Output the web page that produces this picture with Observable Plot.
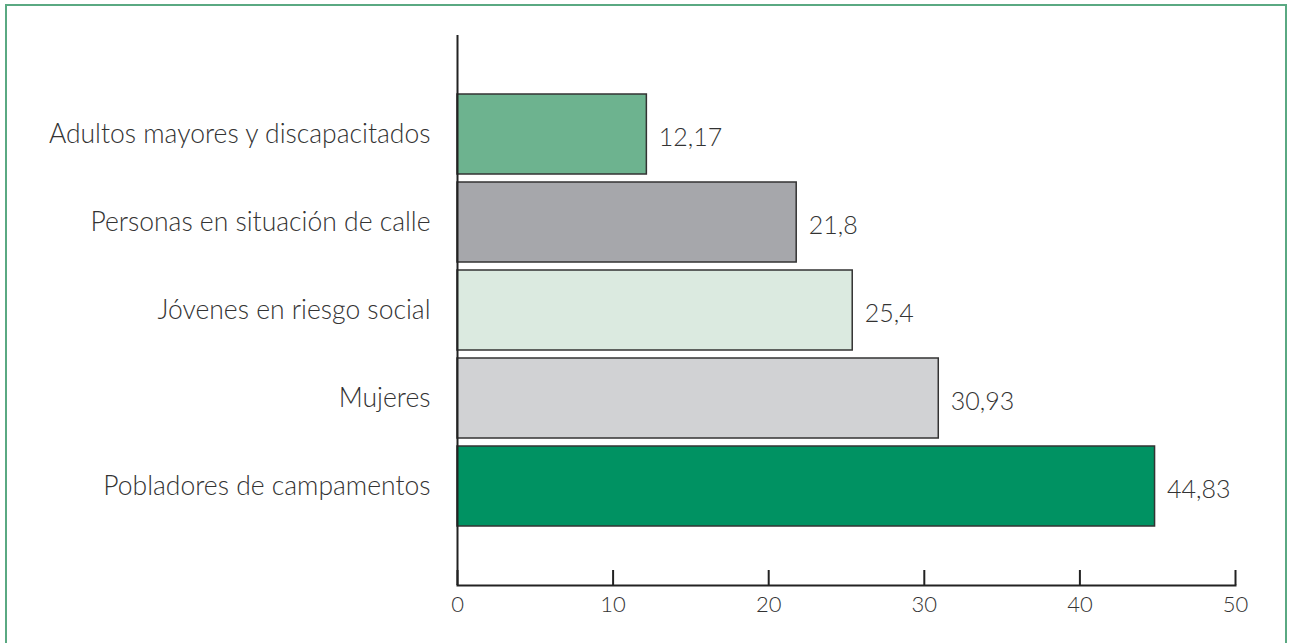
<!DOCTYPE html>
<html>
<head>
<meta charset="utf-8">
<script src="https://cdn.jsdelivr.net/npm/d3@7"></script>
<script src="https://cdn.jsdelivr.net/npm/@observablehq/plot@0.6"></script>
<style>
  html, body { margin: 0; padding: 0; background: #fff; }
  #wrap { position: relative; width: 1289px; height: 643px; overflow: hidden; }
  #border { position: absolute; left: 5px; top: 4px; width: 1282px; height: 700px; border: 2px solid #5aa982; box-sizing: border-box; pointer-events: none; }
  svg { font-family: Lato, "Open Sans", sans-serif; font-weight: 300; }
</style>
</head>
<body>
<div id="wrap"><div id="border"></div></div>
<script>
const categories = [
  "Adultos mayores y discapacitados",
  "Personas en situación de calle",
  "Jóvenes en riesgo social",
  "Mujeres",
  "Pobladores de campamentos"
];
const values = [12.17, 21.8, 25.4, 30.93, 44.83];
const colors = ["#6db38f", "#a6a7ab", "#dbeae0", "#d1d2d4", "#009262"];
const xTicks = [0, 10, 20, 30, 40, 50];

const data = categories.map((c, i) => ({category: c, value: values[i], color: colors[i]}));
const fmt = v => String(v).replace(".", ",");

const chart = Plot.plot({
  width: 1289,
  height: 643,
  marginLeft: 457,
  marginRight: 54,
  marginTop: 35,
  marginBottom: 58,
  style: {fontFamily: "Lato, 'Open Sans', sans-serif", fontWeight: 300, color: "#333", background: "transparent"},
  x: {domain: [0, 50], ticks: xTicks},
  y: {domain: categories, paddingInner: 0.09, paddingOuter: 0.66},
  marks: [
    Plot.barX(data, {x: "value", y: "category", fill: d => d.color, stroke: "#333", strokeWidth: 1.5}),
    Plot.text(data, {x: "value", y: "category", text: d => fmt(d.value), textAnchor: "start", dx: 12, dy: 3, fontSize: 25, fill: "#333"}),
    Plot.ruleX(xTicks, {x: d => d, insetTop: 535, stroke: "#222", strokeWidth: 2}),
    Plot.ruleX([0], {stroke: "#222", strokeWidth: 2}),
    Plot.frame({anchor: "bottom", stroke: "#222", strokeWidth: 2}),
    Plot.axisX(xTicks, {tickSize: 0, tickPadding: 11, fontSize: 22, fill: "#333", label: null, tickFormat: d => String(d)}),
    Plot.axisY({tickSize: 0, tickPadding: 27, fontSize: 26.5, fill: "#333", label: null})
  ]
});
chart.style.position = "absolute";
chart.style.left = "0px";
chart.style.top = "0px";
document.getElementById("wrap").appendChild(chart);
</script>
</body>
</html>
